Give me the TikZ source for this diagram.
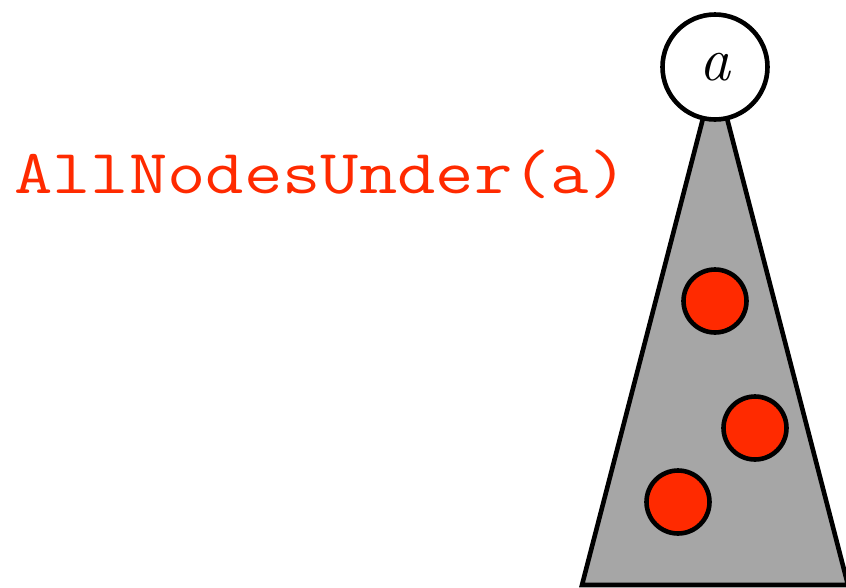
\documentclass[tikz,border=0pt]{standalone}
\usepackage{fontspec}
\definecolor{hotred}{RGB}{255,42,0}
\definecolor{treegray}{RGB}{166,166,166}
\begin{document}
\begin{tikzpicture}[x=1pt,y=-1pt,
  outline/.style={draw=black,line width=4.6pt},
  member/.style={outline,circle,fill=hotred,minimum size=63pt,inner sep=0pt},
  rootnode/.style={outline,circle,fill=white,minimum size=105pt,inner sep=0pt,font=\fontsize{62}{62}\selectfont\itshape}]
\useasboundingbox (0,0) rectangle (846,587);
\draw[outline,fill=treegray,line join=miter] (715,72) -- (582,585) -- (848,585) -- cycle;
\node[rootnode] (a) at (715,67) {\raisebox{-4pt}{a}};
\node[member] (m1) at (715,301) {};
\node[member] (m2) at (755,428) {};
\node[member] (m3) at (678,502) {};
\node[anchor=base west,inner sep=0pt,text=hotred,font=\ttfamily\fontsize{62.7}{62.7}\selectfont] (label) at (14,193) {\scalebox{1.187}[1]{AllNodesUnder(a)}};
\end{tikzpicture}
\end{document}
